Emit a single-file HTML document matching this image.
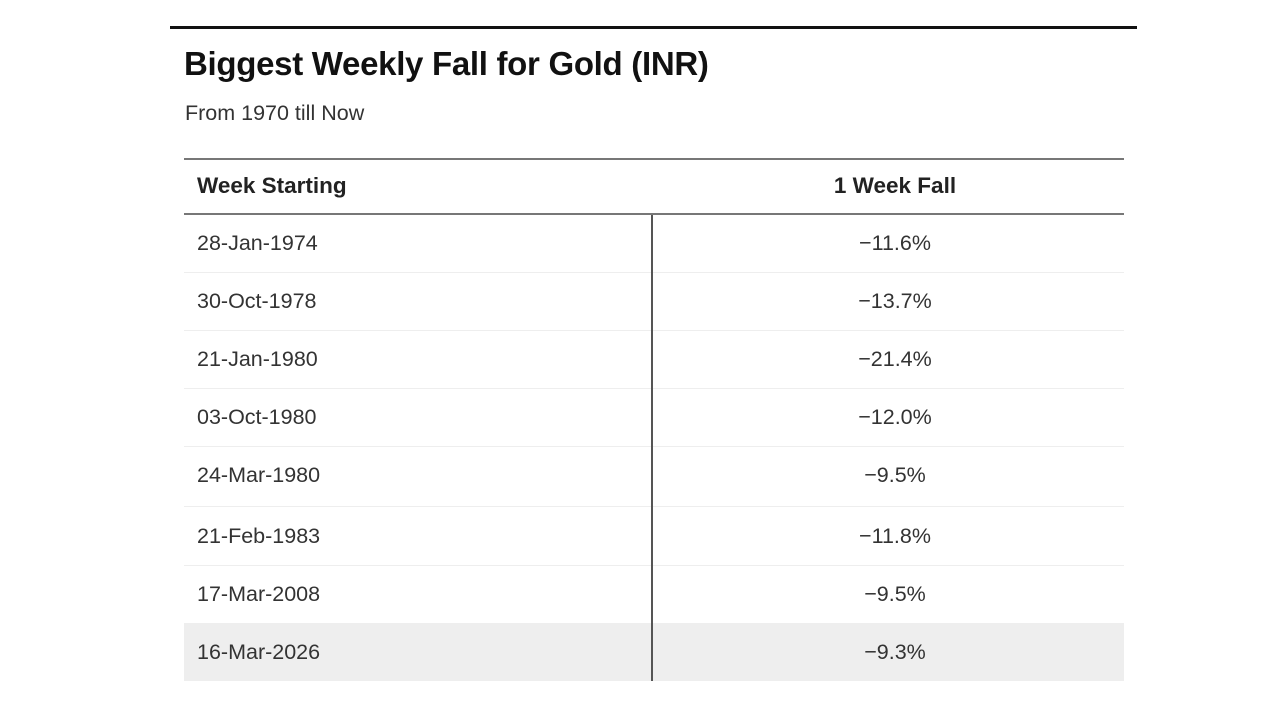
<!DOCTYPE html>
<html><head><style>
body{margin:0;width:1280px;height:720px;background:#fff;font-family:"Liberation Sans",Arial,sans-serif;position:relative;overflow:hidden;color:#222}
.abs{position:absolute}
.row{position:absolute;left:184px;width:940px;border-bottom:1px solid #eee}
.c1{position:absolute;left:13px;font-size:21.5px;color:#333}
.c2{position:absolute;left:475px;width:472px;text-align:center;font-size:21.5px;color:#333}
</style></head><body>
<div class="abs" style="left:170px;top:26px;width:967px;height:3px;background:#111"></div>
<div class="abs" style="left:184px;top:45px;font-size:33px;font-weight:bold;color:#111;letter-spacing:-0.3px">Biggest Weekly Fall for Gold (INR)</div>
<div class="abs" style="left:185px;top:101px;font-size:21.5px;color:#333">From 1970 till Now</div>
<div class="abs" style="left:184px;top:158px;width:940px;height:2px;background:#777"></div>
<div class="abs" style="left:197px;top:173px;font-size:22.5px;font-weight:bold;color:#222">Week Starting</div>
<div class="abs" style="left:659px;top:173px;width:472px;text-align:center;font-size:22.5px;font-weight:bold;color:#222">1 Week Fall</div>
<div class="abs" style="left:184px;top:213px;width:940px;height:2px;background:#777"></div>
<div class="row" style="top:215px;height:57px"><span class="c1" style="top:16px">28-Jan-1974</span><span class="c2" style="top:16px">−11.6%</span></div>
<div class="row" style="top:273px;height:57px"><span class="c1" style="top:16px">30-Oct-1978</span><span class="c2" style="top:16px">−13.7%</span></div>
<div class="row" style="top:331px;height:57px"><span class="c1" style="top:16px">21-Jan-1980</span><span class="c2" style="top:16px">−21.4%</span></div>
<div class="row" style="top:389px;height:57px"><span class="c1" style="top:16px">03-Oct-1980</span><span class="c2" style="top:16px">−12.0%</span></div>
<div class="row" style="top:447px;height:59px"><span class="c1" style="top:16px">24-Mar-1980</span><span class="c2" style="top:16px">−9.5%</span></div>
<div class="row" style="top:507px;height:58px"><span class="c1" style="top:17px">21-Feb-1983</span><span class="c2" style="top:17px">−11.8%</span></div>
<div class="row" style="top:566px;height:57px;border-bottom:none"><span class="c1" style="top:16px">17-Mar-2008</span><span class="c2" style="top:16px">−9.5%</span></div>
<div class="row" style="top:623px;height:58px;background:#eee;border-bottom:none"><span class="c1" style="top:17px">16-Mar-2026</span><span class="c2" style="top:17px">−9.3%</span></div>
<div class="abs" style="left:651px;top:215px;width:2px;height:466px;background:#555"></div>
</body></html>
